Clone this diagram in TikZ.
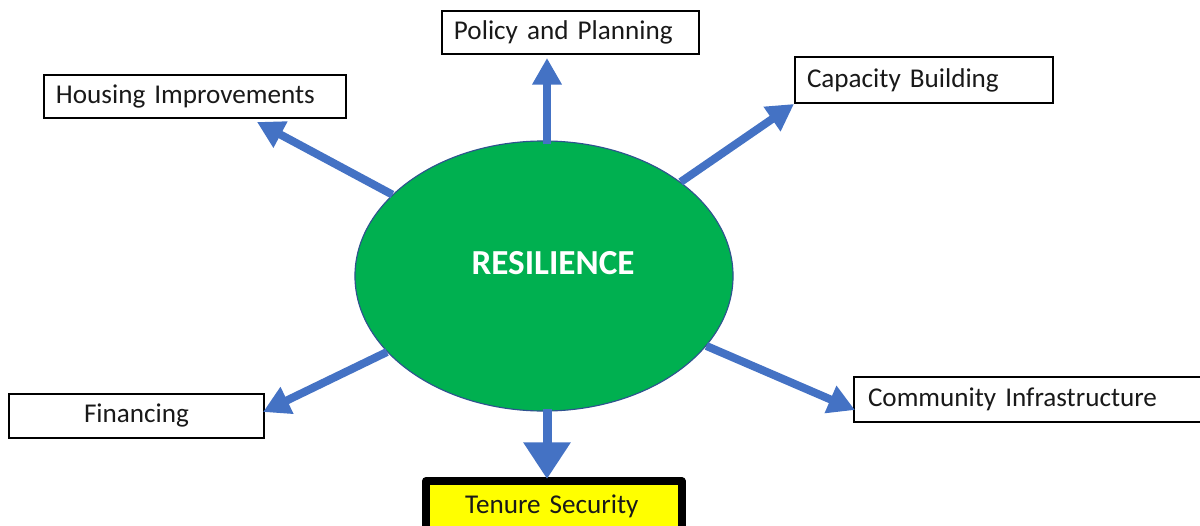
\documentclass[tikz,border=0pt]{standalone}
\usepackage{fontspec}
\setmainfont[WordSpace=0.8]{Carlito}
\usetikzlibrary{arrows.meta,shapes.geometric,calc}
\definecolor{arrblue}{HTML}{4472C4}
\definecolor{resgreen}{HTML}{00B050}
\definecolor{resedge}{HTML}{2F528F}
\definecolor{tsyellow}{HTML}{FFFF00}
\begin{document}
\begin{tikzpicture}[x=0.025cm,y=-0.025cm,
  lbl/.style={font=\fontsize{19.3}{22}\selectfont, text=black!90},
  box/.style={lbl, draw=black, line width=1.4pt, fill=white, anchor=north west,
    inner ysep=0pt, inner xsep=0.3cm, align=left},
  arr/.style={draw=arrblue, line width=5.7pt, -{Triangle[length=19pt,width=20pt]}},
  arrbig/.style={draw=arrblue, line width=6.4pt, -{Triangle[length=26pt,width=32pt]}},
]
\useasboundingbox (0,0) rectangle (1200,525);
\clip (0,0) rectangle (1200,525);

% boxes
\node[box, text width=5.825cm, minimum height=1.075cm] (pp) at (441,10) {Policy and Planning};
\node[box, text width=6.95cm, minimum height=1.075cm] (hi) at (43,74) {Housing Improvements};
\node[box, text width=5.85cm, minimum height=1.15cm] (cb) at (794,56) {Capacity Building};
\node[box, align=center, text width=5.775cm, minimum height=1.1cm] (fi) at (8,393) {Financing};
\node[box, draw=none, inner xsep=0.325cm, text width=9.5cm, minimum height=1.075cm] (ci) at (854,377) {Community Infrastructure};
\draw[line width=2pt, line cap=rect] (ci.north east) -- (ci.north west) -- (ci.south west) -- (ci.south east);
\node[lbl, fill=tsyellow, anchor=north west, inner sep=0pt,
  align=center, text width=6.375cm, text height=0.8cm, text depth=0.7cm] (ts) at (426,481) {Tenure Security\hspace*{0.1cm}};
\draw[line width=5.7pt, line join=round] (ts.south west) -- (ts.north west) -- (ts.north east) -- (ts.south east);

% central ellipse
\node[ellipse, fill=resgreen, draw=resedge, line width=0.8pt, inner sep=0pt,
  minimum width=9.45cm, minimum height=6.75cm] (res) at (544,276) {};
\node[font=\fontsize{25}{28}\bfseries, text=white] (reslbl) at (553,263) {RESILIENCE};

% arrow tips
\coordinate (ppTip) at (547,58);
\coordinate (hiTip) at (257,122);
\coordinate (cbTip) at (794,104);
\coordinate (fiTip) at (263,412);
\coordinate (ciTip) at (855,410);
\coordinate (tsTip) at (547,479);

\draw[arr] (res.north -| ppTip) ++(0,4) -- (ppTip);
\draw[arr] (res) -- (hiTip);
\draw[arr] (res) -- (cbTip);
\draw[arr] (res) -- (fiTip);
\draw[arr] (res) -- (ciTip);
\draw[arrbig] (res.south -| tsTip) ++(0,-3) -- (tsTip);
\end{tikzpicture}
\end{document}
